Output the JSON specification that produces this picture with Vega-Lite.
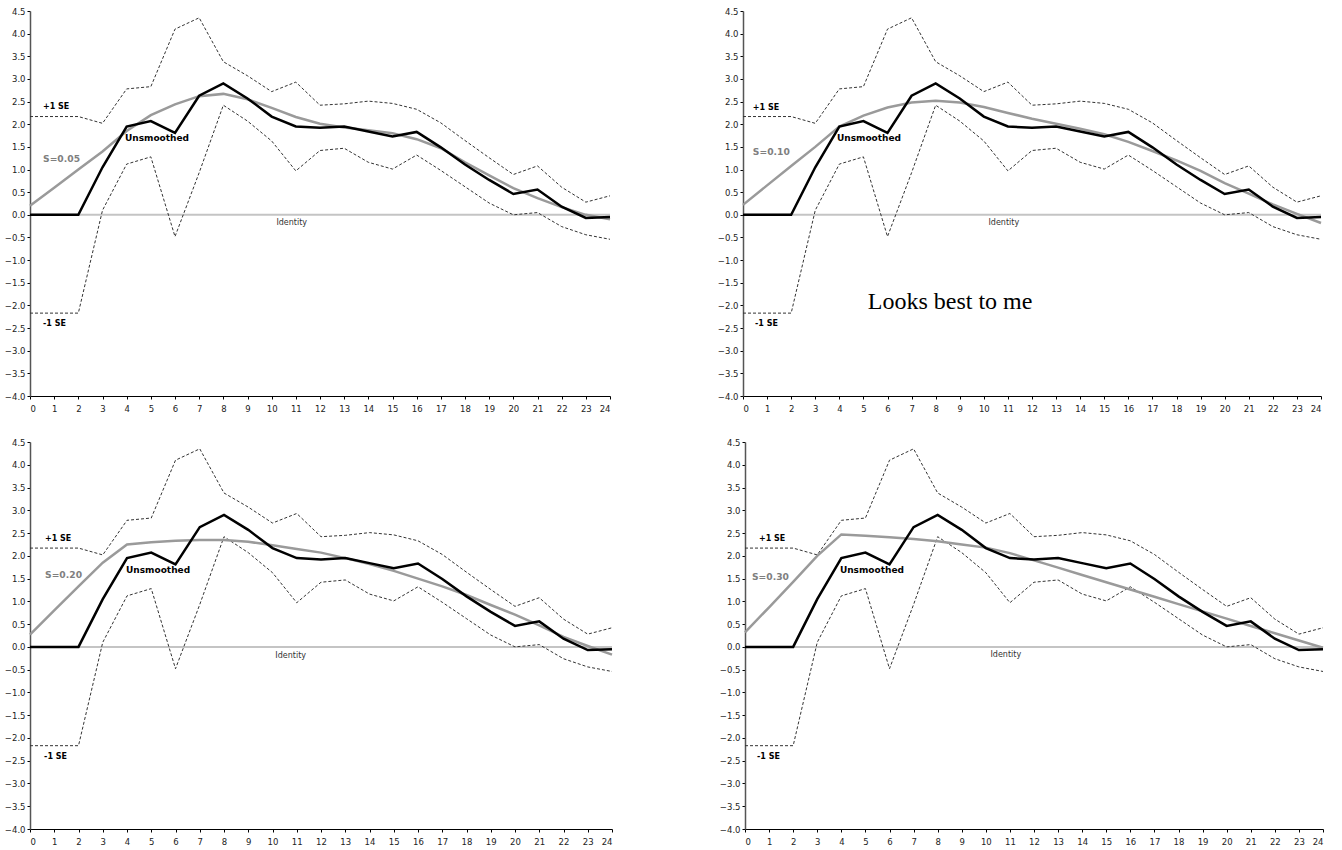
{
  "$schema": "https://vega.github.io/schema/vega-lite/v6.json",
  "autosize": {"type": "pad"},
  "padding": {"left": 4, "top": 7, "right": 0, "bottom": 0},
  "background": "white",
  "config": {
    "view": {"stroke": null},
    "axis": {
      "grid": false,
      "labelFont": "DejaVu Sans",
      "labelFontSize": 8.5,
      "labelColor": "#222222",
      "domainColor": "#000000",
      "tickColor": "#000000",
      "tickSize": 3,
      "domainWidth": 1,
      "labelPadding": 2
    },
    "axisX": {"labelPadding": 5},
    "axisY": {"domainColor": "#555555", "domainWidth": 1.5}
  },
  "datasets": {
    "identity": [
      {"x": 0, "v": 0},
      {"x": 24, "v": 0}
    ],
    "curves": [
      {"x": 0, "mid": 0, "hi": 2.17, "lo": -2.17, "s05": 0.2, "s10": 0.22, "s20": 0.27, "s30": 0.32},
      {"x": 1, "mid": 0, "hi": 2.17, "lo": -2.17, "s05": 0.6, "s10": 0.65, "s20": 0.8, "s30": 0.87},
      {"x": 2, "mid": 0, "hi": 2.17, "lo": -2.17, "s05": 1.0, "s10": 1.08, "s20": 1.33, "s30": 1.43},
      {"x": 3, "mid": 1.05, "hi": 2.02, "lo": 0.1, "s05": 1.4, "s10": 1.5, "s20": 1.85, "s30": 2.0},
      {"x": 4, "mid": 1.95, "hi": 2.78, "lo": 1.12, "s05": 1.85, "s10": 1.95, "s20": 2.25, "s30": 2.47},
      {"x": 5, "mid": 2.07, "hi": 2.83, "lo": 1.28, "s05": 2.2, "s10": 2.19, "s20": 2.3, "s30": 2.44},
      {"x": 6, "mid": 1.81, "hi": 4.1, "lo": -0.48, "s05": 2.44, "s10": 2.37, "s20": 2.33, "s30": 2.41},
      {"x": 7, "mid": 2.63, "hi": 4.35, "lo": 0.93, "s05": 2.62, "s10": 2.48, "s20": 2.35, "s30": 2.37},
      {"x": 8, "mid": 2.9, "hi": 3.38, "lo": 2.42, "s05": 2.67, "s10": 2.52, "s20": 2.35, "s30": 2.32},
      {"x": 9, "mid": 2.57, "hi": 3.07, "lo": 2.07, "s05": 2.55, "s10": 2.48, "s20": 2.31, "s30": 2.25},
      {"x": 10, "mid": 2.17, "hi": 2.72, "lo": 1.63, "s05": 2.36, "s10": 2.38, "s20": 2.23, "s30": 2.18},
      {"x": 11, "mid": 1.95, "hi": 2.93, "lo": 0.97, "s05": 2.16, "s10": 2.25, "s20": 2.15, "s30": 2.06},
      {"x": 12, "mid": 1.92, "hi": 2.42, "lo": 1.42, "s05": 2.01, "s10": 2.12, "s20": 2.07, "s30": 1.9},
      {"x": 13, "mid": 1.95, "hi": 2.45, "lo": 1.47, "s05": 1.93, "s10": 2.01, "s20": 1.95, "s30": 1.74},
      {"x": 14, "mid": 1.84, "hi": 2.51, "lo": 1.16, "s05": 1.87, "s10": 1.9, "s20": 1.82, "s30": 1.58},
      {"x": 15, "mid": 1.73, "hi": 2.46, "lo": 1.01, "s05": 1.8, "s10": 1.78, "s20": 1.67, "s30": 1.42},
      {"x": 16, "mid": 1.83, "hi": 2.33, "lo": 1.32, "s05": 1.67, "s10": 1.61, "s20": 1.5, "s30": 1.26},
      {"x": 17, "mid": 1.49, "hi": 2.03, "lo": 0.98, "s05": 1.47, "s10": 1.41, "s20": 1.33, "s30": 1.1},
      {"x": 18, "mid": 1.11, "hi": 1.64, "lo": 0.62, "s05": 1.16, "s10": 1.2, "s20": 1.14, "s30": 0.94},
      {"x": 19, "mid": 0.77, "hi": 1.26, "lo": 0.26, "s05": 0.87, "s10": 0.97, "s20": 0.92, "s30": 0.78},
      {"x": 20, "mid": 0.46, "hi": 0.89, "lo": 0.0, "s05": 0.59, "s10": 0.7, "s20": 0.71, "s30": 0.62},
      {"x": 21, "mid": 0.56, "hi": 1.08, "lo": 0.05, "s05": 0.37, "s10": 0.47, "s20": 0.47, "s30": 0.46},
      {"x": 22, "mid": 0.18, "hi": 0.61, "lo": -0.26, "s05": 0.17, "s10": 0.23, "s20": 0.22, "s30": 0.3},
      {"x": 23, "mid": -0.07, "hi": 0.28, "lo": -0.44, "s05": 0.0, "s10": 0.02, "s20": 0.02, "s30": 0.14},
      {"x": 24, "mid": -0.05, "hi": 0.42, "lo": -0.54, "s05": -0.1, "s10": -0.18, "s20": -0.17, "s30": -0.02}
    ],
    "notes": [
      {"p": "a", "kind": "se", "x": 0.54, "v": 2.37, "text": "+1 SE"},
      {"p": "a", "kind": "se", "x": 0.54, "v": -2.42, "text": "-1 SE"},
      {"p": "a", "kind": "unsm", "x": 3.93, "v": 1.7, "text": "Unsmoothed"},
      {"p": "a", "kind": "s", "x": 0.54, "v": 1.24, "text": "S=0.05"},
      {"p": "a", "kind": "id", "x": 10.83, "v": -0.18, "text": "Identity"},
      {"p": "b", "kind": "se", "x": 0.41, "v": 2.36, "text": "+1 SE"},
      {"p": "b", "kind": "se", "x": 0.5, "v": -2.42, "text": "-1 SE"},
      {"p": "b", "kind": "unsm", "x": 3.9, "v": 1.69, "text": "Unsmoothed"},
      {"p": "b", "kind": "s", "x": 0.41, "v": 1.39, "text": "S=0.10"},
      {"p": "b", "kind": "id", "x": 10.83, "v": -0.18, "text": "Identity"},
      {"p": "b", "kind": "note", "x": 8.6, "v": -2.09, "text": "Looks best to me"},
      {"p": "c", "kind": "se", "x": 0.62, "v": 2.37, "text": "+1 SE"},
      {"p": "c", "kind": "se", "x": 0.58, "v": -2.41, "text": "-1 SE"},
      {"p": "c", "kind": "unsm", "x": 3.96, "v": 1.68, "text": "Unsmoothed"},
      {"p": "c", "kind": "s", "x": 0.62, "v": 1.57, "text": "S=0.20"},
      {"p": "c", "kind": "id", "x": 10.75, "v": -0.19, "text": "Identity"},
      {"p": "d", "kind": "se", "x": 0.58, "v": 2.37, "text": "+1 SE"},
      {"p": "d", "kind": "se", "x": 0.5, "v": -2.42, "text": "-1 SE"},
      {"p": "d", "kind": "unsm", "x": 3.94, "v": 1.68, "text": "Unsmoothed"},
      {"p": "d", "kind": "s", "x": 0.29, "v": 1.54, "text": "S=0.30"},
      {"p": "d", "kind": "id", "x": 10.83, "v": -0.18, "text": "Identity"}
    ]
  },
  "spacing": 25,
  "vconcat": [
    {
      "spacing": 102,
      "hconcat": [
        {
          "width": 580, "height": 385,
          "data": {"name": "curves"},
          "encoding": {
            "x": {"field": "x", "type": "quantitative", "title": null, "scale": {"domain": [0, 24], "nice": false},
                  "axis": {"values": [0,1,2,3,4,5,6,7,8,9,10,11,12,13,14,15,16,17,18,19,20,21,22,23,24]}},
            "y": {"field": "v", "type": "quantitative", "title": null, "scale": {"domain": [-4, 4.5], "nice": false},
                  "axis": {"values": [-4,-3.5,-3,-2.5,-2,-1.5,-1,-0.5,0,0.5,1,1.5,2,2.5,3,3.5,4,4.5], "format": ".1f"}}
          },
          "layer": [
            {"data": {"name": "identity"}, "mark": {"type": "line", "color": "#c4c4c4", "strokeWidth": 2}},
            {"transform": [{"fold": ["hi"], "as": ["k", "v"]}], "mark": {"type": "line", "color": "#333333", "strokeWidth": 1, "strokeDash": [3, 2]}},
            {"transform": [{"fold": ["lo"], "as": ["k", "v"]}], "mark": {"type": "line", "color": "#333333", "strokeWidth": 1, "strokeDash": [3, 2]}},
            {"transform": [{"fold": ["s05"], "as": ["k", "v"]}], "mark": {"type": "line", "color": "#9a9a9a", "strokeWidth": 2.5}},
            {"transform": [{"fold": ["mid"], "as": ["k", "v"]}], "mark": {"type": "line", "color": "#000000", "strokeWidth": 2.5}},
            {"data": {"name": "notes"}, "transform": [{"filter": "datum.p == 'a' && datum.kind == 'se'"}],
             "mark": {"type": "text", "align": "left", "baseline": "middle", "font": "DejaVu Sans", "fontWeight": "bold", "fontSize": 8, "color": "#000000"},
             "encoding": {"text": {"field": "text"}}},
            {"data": {"name": "notes"}, "transform": [{"filter": "datum.p == 'a' && datum.kind == 'unsm'"}],
             "mark": {"type": "text", "align": "left", "baseline": "middle", "font": "DejaVu Sans", "fontWeight": "bold", "fontSize": 9, "color": "#000000"},
             "encoding": {"text": {"field": "text"}}},
            {"data": {"name": "notes"}, "transform": [{"filter": "datum.p == 'a' && datum.kind == 's'"}],
             "mark": {"type": "text", "align": "left", "baseline": "middle", "font": "DejaVu Sans", "fontWeight": "bold", "fontSize": 9.2, "color": "#7f7f7f"},
             "encoding": {"text": {"field": "text"}}},
            {"data": {"name": "notes"}, "transform": [{"filter": "datum.p == 'a' && datum.kind == 'id'"}],
             "mark": {"type": "text", "align": "center", "baseline": "middle", "font": "DejaVu Sans", "fontSize": 8, "color": "#333333"},
             "encoding": {"text": {"field": "text"}}}
          ]
        },
        {
          "width": 578, "height": 385,
          "data": {"name": "curves"},
          "encoding": {
            "x": {"field": "x", "type": "quantitative", "title": null, "scale": {"domain": [0, 24], "nice": false},
                  "axis": {"values": [0,1,2,3,4,5,6,7,8,9,10,11,12,13,14,15,16,17,18,19,20,21,22,23,24]}},
            "y": {"field": "v", "type": "quantitative", "title": null, "scale": {"domain": [-4, 4.5], "nice": false},
                  "axis": {"values": [-4,-3.5,-3,-2.5,-2,-1.5,-1,-0.5,0,0.5,1,1.5,2,2.5,3,3.5,4,4.5], "format": ".1f"}}
          },
          "layer": [
            {"data": {"name": "identity"}, "mark": {"type": "line", "color": "#c4c4c4", "strokeWidth": 2}},
            {"transform": [{"fold": ["hi"], "as": ["k", "v"]}], "mark": {"type": "line", "color": "#333333", "strokeWidth": 1, "strokeDash": [3, 2]}},
            {"transform": [{"fold": ["lo"], "as": ["k", "v"]}], "mark": {"type": "line", "color": "#333333", "strokeWidth": 1, "strokeDash": [3, 2]}},
            {"transform": [{"fold": ["s10"], "as": ["k", "v"]}], "mark": {"type": "line", "color": "#9a9a9a", "strokeWidth": 2.5}},
            {"transform": [{"fold": ["mid"], "as": ["k", "v"]}], "mark": {"type": "line", "color": "#000000", "strokeWidth": 2.5}},
            {"data": {"name": "notes"}, "transform": [{"filter": "datum.p == 'b' && datum.kind == 'se'"}],
             "mark": {"type": "text", "align": "left", "baseline": "middle", "font": "DejaVu Sans", "fontWeight": "bold", "fontSize": 8, "color": "#000000"},
             "encoding": {"text": {"field": "text"}}},
            {"data": {"name": "notes"}, "transform": [{"filter": "datum.p == 'b' && datum.kind == 'unsm'"}],
             "mark": {"type": "text", "align": "left", "baseline": "middle", "font": "DejaVu Sans", "fontWeight": "bold", "fontSize": 9, "color": "#000000"},
             "encoding": {"text": {"field": "text"}}},
            {"data": {"name": "notes"}, "transform": [{"filter": "datum.p == 'b' && datum.kind == 's'"}],
             "mark": {"type": "text", "align": "left", "baseline": "middle", "font": "DejaVu Sans", "fontWeight": "bold", "fontSize": 9.2, "color": "#7f7f7f"},
             "encoding": {"text": {"field": "text"}}},
            {"data": {"name": "notes"}, "transform": [{"filter": "datum.p == 'b' && datum.kind == 'id'"}],
             "mark": {"type": "text", "align": "center", "baseline": "middle", "font": "DejaVu Sans", "fontSize": 8, "color": "#333333"},
             "encoding": {"text": {"field": "text"}}},
            {"data": {"name": "notes"}, "transform": [{"filter": "datum.p == 'b' && datum.kind == 'note'"}],
             "mark": {"type": "text", "align": "center", "baseline": "alphabetic", "font": "Liberation Serif", "fontSize": 24, "color": "#000000"},
             "encoding": {"text": {"field": "text"}}}
          ]
        }
      ]
    },
    {
      "spacing": 102,
      "hconcat": [
        {
          "width": 582, "height": 387,
          "data": {"name": "curves"},
          "encoding": {
            "x": {"field": "x", "type": "quantitative", "title": null, "scale": {"domain": [0, 24], "nice": false},
                  "axis": {"values": [0,1,2,3,4,5,6,7,8,9,10,11,12,13,14,15,16,17,18,19,20,21,22,23,24]}},
            "y": {"field": "v", "type": "quantitative", "title": null, "scale": {"domain": [-4, 4.5], "nice": false},
                  "axis": {"values": [-4,-3.5,-3,-2.5,-2,-1.5,-1,-0.5,0,0.5,1,1.5,2,2.5,3,3.5,4,4.5], "format": ".1f"}}
          },
          "layer": [
            {"data": {"name": "identity"}, "mark": {"type": "line", "color": "#c4c4c4", "strokeWidth": 2}},
            {"transform": [{"fold": ["hi"], "as": ["k", "v"]}], "mark": {"type": "line", "color": "#333333", "strokeWidth": 1, "strokeDash": [3, 2]}},
            {"transform": [{"fold": ["lo"], "as": ["k", "v"]}], "mark": {"type": "line", "color": "#333333", "strokeWidth": 1, "strokeDash": [3, 2]}},
            {"transform": [{"fold": ["s20"], "as": ["k", "v"]}], "mark": {"type": "line", "color": "#9a9a9a", "strokeWidth": 2.5}},
            {"transform": [{"fold": ["mid"], "as": ["k", "v"]}], "mark": {"type": "line", "color": "#000000", "strokeWidth": 2.5}},
            {"data": {"name": "notes"}, "transform": [{"filter": "datum.p == 'c' && datum.kind == 'se'"}],
             "mark": {"type": "text", "align": "left", "baseline": "middle", "font": "DejaVu Sans", "fontWeight": "bold", "fontSize": 8, "color": "#000000"},
             "encoding": {"text": {"field": "text"}}},
            {"data": {"name": "notes"}, "transform": [{"filter": "datum.p == 'c' && datum.kind == 'unsm'"}],
             "mark": {"type": "text", "align": "left", "baseline": "middle", "font": "DejaVu Sans", "fontWeight": "bold", "fontSize": 9, "color": "#000000"},
             "encoding": {"text": {"field": "text"}}},
            {"data": {"name": "notes"}, "transform": [{"filter": "datum.p == 'c' && datum.kind == 's'"}],
             "mark": {"type": "text", "align": "left", "baseline": "middle", "font": "DejaVu Sans", "fontWeight": "bold", "fontSize": 9.2, "color": "#7f7f7f"},
             "encoding": {"text": {"field": "text"}}},
            {"data": {"name": "notes"}, "transform": [{"filter": "datum.p == 'c' && datum.kind == 'id'"}],
             "mark": {"type": "text", "align": "center", "baseline": "middle", "font": "DejaVu Sans", "fontSize": 8, "color": "#333333"},
             "encoding": {"text": {"field": "text"}}}
          ]
        },
        {
          "width": 578, "height": 387,
          "data": {"name": "curves"},
          "encoding": {
            "x": {"field": "x", "type": "quantitative", "title": null, "scale": {"domain": [0, 24], "nice": false},
                  "axis": {"values": [0,1,2,3,4,5,6,7,8,9,10,11,12,13,14,15,16,17,18,19,20,21,22,23,24]}},
            "y": {"field": "v", "type": "quantitative", "title": null, "scale": {"domain": [-4, 4.5], "nice": false},
                  "axis": {"values": [-4,-3.5,-3,-2.5,-2,-1.5,-1,-0.5,0,0.5,1,1.5,2,2.5,3,3.5,4,4.5], "format": ".1f"}}
          },
          "layer": [
            {"data": {"name": "identity"}, "mark": {"type": "line", "color": "#c4c4c4", "strokeWidth": 2}},
            {"transform": [{"fold": ["hi"], "as": ["k", "v"]}], "mark": {"type": "line", "color": "#333333", "strokeWidth": 1, "strokeDash": [3, 2]}},
            {"transform": [{"fold": ["lo"], "as": ["k", "v"]}], "mark": {"type": "line", "color": "#333333", "strokeWidth": 1, "strokeDash": [3, 2]}},
            {"transform": [{"fold": ["s30"], "as": ["k", "v"]}], "mark": {"type": "line", "color": "#9a9a9a", "strokeWidth": 2.5}},
            {"transform": [{"fold": ["mid"], "as": ["k", "v"]}], "mark": {"type": "line", "color": "#000000", "strokeWidth": 2.5}},
            {"data": {"name": "notes"}, "transform": [{"filter": "datum.p == 'd' && datum.kind == 'se'"}],
             "mark": {"type": "text", "align": "left", "baseline": "middle", "font": "DejaVu Sans", "fontWeight": "bold", "fontSize": 8, "color": "#000000"},
             "encoding": {"text": {"field": "text"}}},
            {"data": {"name": "notes"}, "transform": [{"filter": "datum.p == 'd' && datum.kind == 'unsm'"}],
             "mark": {"type": "text", "align": "left", "baseline": "middle", "font": "DejaVu Sans", "fontWeight": "bold", "fontSize": 9, "color": "#000000"},
             "encoding": {"text": {"field": "text"}}},
            {"data": {"name": "notes"}, "transform": [{"filter": "datum.p == 'd' && datum.kind == 's'"}],
             "mark": {"type": "text", "align": "left", "baseline": "middle", "font": "DejaVu Sans", "fontWeight": "bold", "fontSize": 9.2, "color": "#7f7f7f"},
             "encoding": {"text": {"field": "text"}}},
            {"data": {"name": "notes"}, "transform": [{"filter": "datum.p == 'd' && datum.kind == 'id'"}],
             "mark": {"type": "text", "align": "center", "baseline": "middle", "font": "DejaVu Sans", "fontSize": 8, "color": "#333333"},
             "encoding": {"text": {"field": "text"}}}
          ]
        }
      ]
    }
  ]
}
